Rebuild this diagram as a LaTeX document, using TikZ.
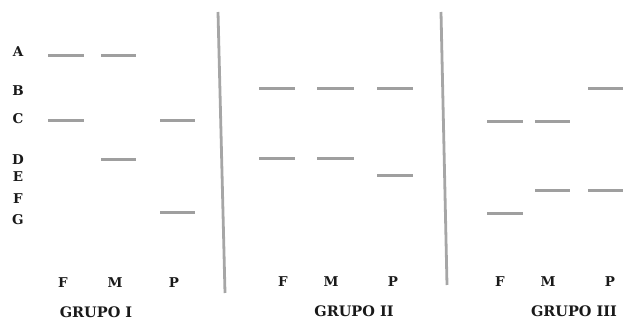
\documentclass[tikz,border=0pt]{standalone}
\usepackage{fontspec}
\setmainfont{DejaVu Serif}
\begin{document}
\begin{tikzpicture}[x=1pt,y=-1pt,
  band/.style={line width=3pt,draw=gray!75},
  divider/.style={line width=2.8pt,draw=gray!70},
  lbl/.style={font=\bfseries\fontsize{13.5}{14}\selectfont,text=black!90,inner sep=0pt},
  grp/.style={font=\bfseries\fontsize{14.5}{16}\selectfont,text=black!90,inner sep=0pt}]
\useasboundingbox (0,0) rectangle (629,320);
% row letters
\node[lbl] (lA) at (18,52) {A};
\node[lbl] (lB) at (18,91) {B};
\node[lbl] (lC) at (18,119) {C};
\node[lbl] (lD) at (18,160) {D};
\node[lbl] (lE) at (18,177) {E};
\node[lbl] (lF) at (18,199) {F};
\node[lbl] (lG) at (18,220) {G};
% dividers
\coordinate (d1t) at (218,12);
\coordinate (d1b) at (225,293);
\coordinate (d2t) at (441,12);
\coordinate (d2b) at (447,285);
\draw[divider] (d1t) -- (d1b);
\draw[divider] (d2t) -- (d2b);
% group I bands
\coordinate (a1) at (48,56); \coordinate (a2) at (84,56);
\draw[band] (a1) -- (a2);
\coordinate (b1) at (101,56); \coordinate (b2) at (136,56);
\draw[band] (b1) -- (b2);
\coordinate (c1) at (48,121); \coordinate (c2) at (84,121);
\draw[band] (c1) -- (c2);
\coordinate (e1) at (160,121); \coordinate (e2) at (195,121);
\draw[band] (e1) -- (e2);
\coordinate (f1) at (101,160); \coordinate (f2) at (136,160);
\draw[band] (f1) -- (f2);
\coordinate (g1) at (160,213); \coordinate (g2) at (195,213);
\draw[band] (g1) -- (g2);
% group II bands
\coordinate (h1) at (259,89); \coordinate (h2) at (295,89);
\draw[band] (h1) -- (h2);
\coordinate (i1) at (317,89); \coordinate (i2) at (354,89);
\draw[band] (i1) -- (i2);
\coordinate (j1) at (377,89); \coordinate (j2) at (413,89);
\draw[band] (j1) -- (j2);
\coordinate (k1) at (259,159); \coordinate (k2) at (295,159);
\draw[band] (k1) -- (k2);
\coordinate (l1) at (317,159); \coordinate (l2) at (354,159);
\draw[band] (l1) -- (l2);
\coordinate (m1) at (377,176); \coordinate (m2) at (413,176);
\draw[band] (m1) -- (m2);
% group III bands
\coordinate (n1) at (487,122); \coordinate (n2) at (523,122);
\draw[band] (n1) -- (n2);
\coordinate (o1) at (535,122); \coordinate (o2) at (570,122);
\draw[band] (o1) -- (o2);
\coordinate (p1) at (588,89); \coordinate (p2) at (623,89);
\draw[band] (p1) -- (p2);
\coordinate (q1) at (487,214); \coordinate (q2) at (523,214);
\draw[band] (q1) -- (q2);
\coordinate (r1) at (535,191); \coordinate (r2) at (570,191);
\draw[band] (r1) -- (r2);
\coordinate (s1) at (588,191); \coordinate (s2) at (623,191);
\draw[band] (s1) -- (s2);
% column labels
\node[lbl] (f1l) at (63,283) {F};
\node[lbl] (m1l) at (115,283) {M};
\node[lbl] (p1l) at (174,283) {P};
\node[lbl] (f2l) at (283,282) {F};
\node[lbl] (m2l) at (331,282) {M};
\node[lbl] (p2l) at (393,282) {P};
\node[lbl] (f3l) at (500,282) {F};
\node[lbl] (m3l) at (548,282) {M};
\node[lbl] (p3l) at (610,282) {P};
% group labels
\node[grp] (g1l) at (96,312) {GRUPO I};
\node[grp] (g2l) at (354,311) {GRUPO II};
\node[grp] (g3l) at (574,311) {GRUPO III};
\end{tikzpicture}
\end{document}
